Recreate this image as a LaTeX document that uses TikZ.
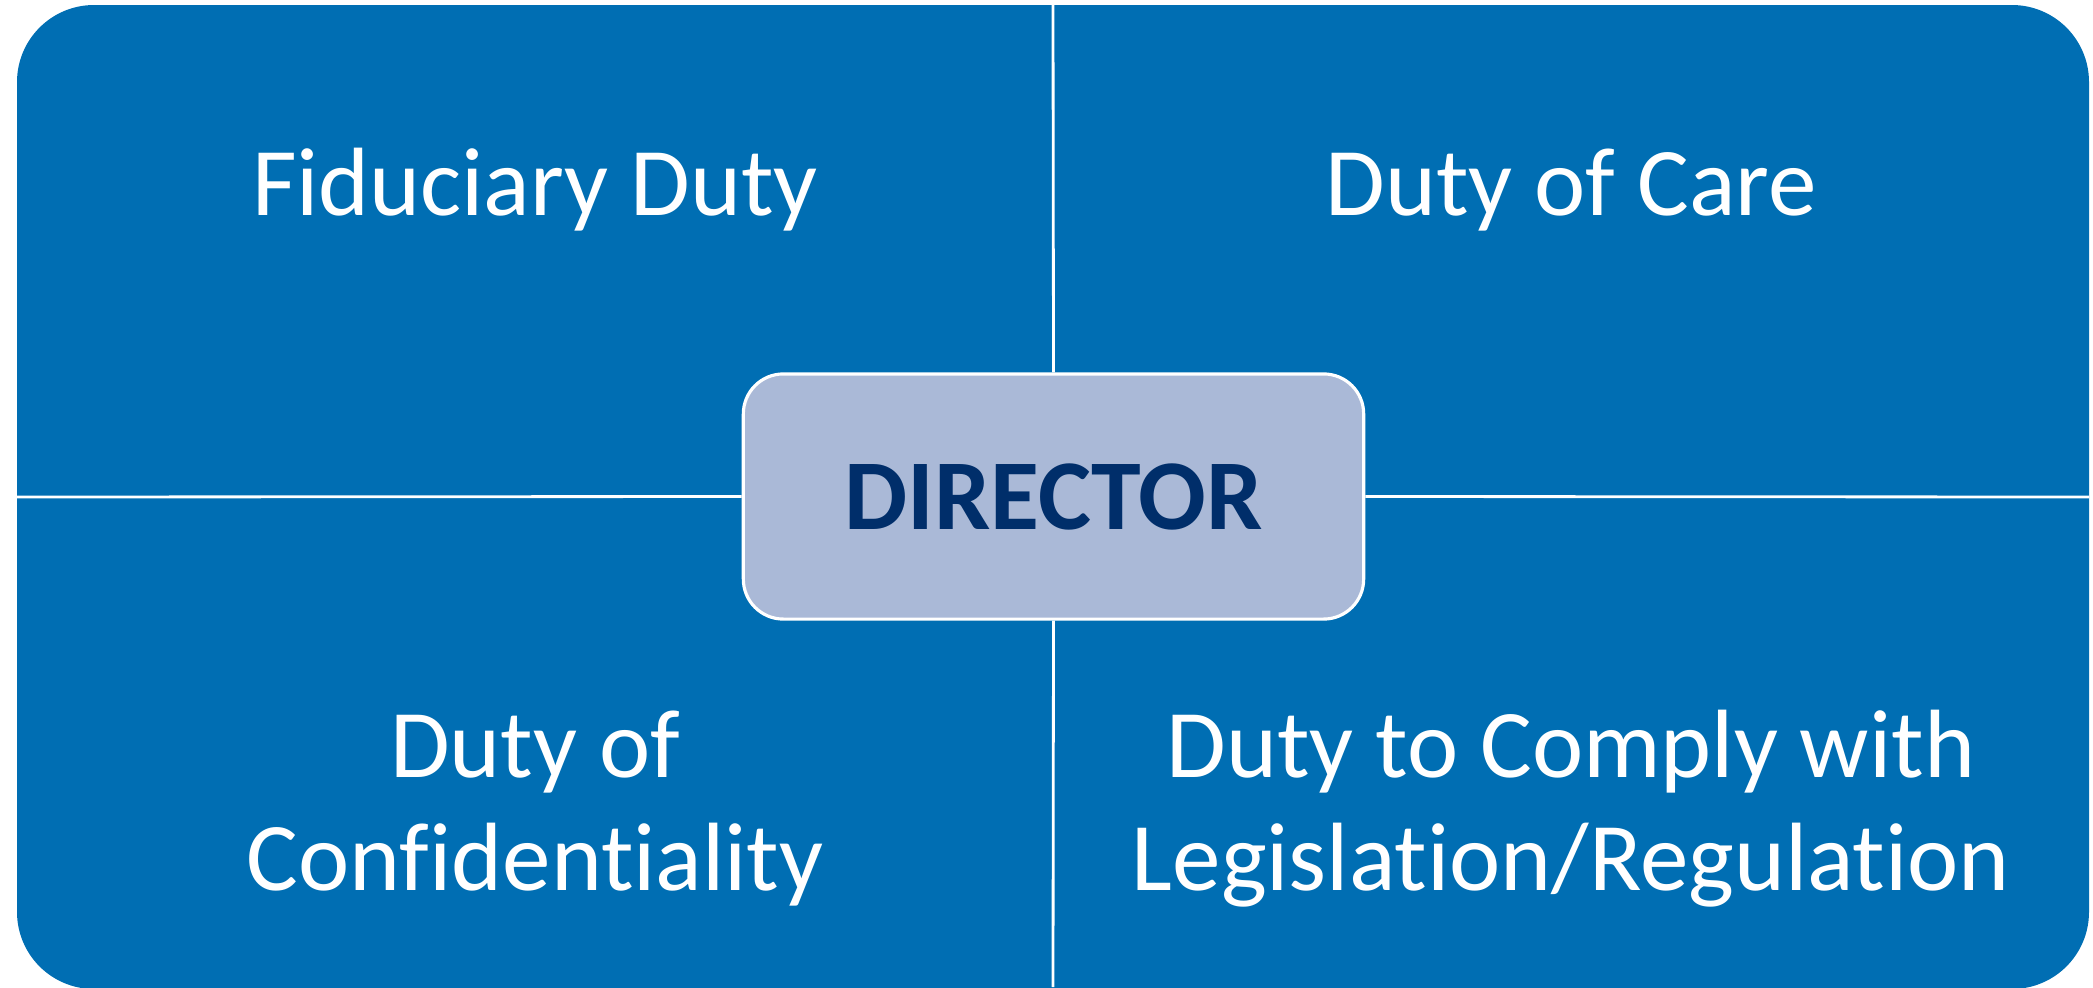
\documentclass[tikz,border=0pt]{standalone}
\usepackage{fontspec}
\setmainfont[Ligatures={NoCommon,NoRare,NoContextual}]{Carlito}
\definecolor{bleu}{RGB}{0,110,179}
\definecolor{bleuclair}{RGB}{170,185,215}
\definecolor{marine}{RGB}{0,46,106}
\begin{document}
\begin{tikzpicture}[x=0.01cm, y=-0.01cm]
			\useasboundingbox (0,0) rectangle (2093,987);
			%Fond des quatre devoirs
			\begin{scope}
				\clip (0,0) rectangle (2093,987);
				\fill[bleu, rounded corners=0.77cm] (17,5) rectangle (2089,989);
			\end{scope}
			%Points d'attache des traits de séparation
			\coordinate (H) at (1053,0);
			\coordinate (B) at (1053,987);
			\coordinate (G) at (17,497);
			\coordinate (D) at (2089,497);
			%Le directeur au centre
			\node[draw=white, line width=0.9pt, fill=bleuclair, rounded corners=0.4cm,
				minimum width=6.2cm, minimum height=2.45cm, text=marine,
				font=\fontsize{28.5}{34}\selectfont\bfseries] (Dir) at (1053.5,496.5) {DIRECTOR};
			%Traits de séparation
			\draw[white, line width=0.8pt] (H) -- (Dir.north);
			\draw[white, line width=0.8pt] (Dir.south) -- (B);
			\draw[white, line width=0.8pt] (G) -- (Dir.west);
			\draw[white, line width=0.8pt] (Dir.east) -- (D);
			%Les devoirs (ancre base = ligne de base de la derniere ligne)
			\node[white, anchor=base, font=\fontsize{27.6}{31.9}\selectfont] (Fid) at (535,215) {Fiduciary Duty};
			\node[white, anchor=base, font=\fontsize{27.6}{31.9}\selectfont] (Care) at (1571,215) {Duty of Care};
			\node[white, anchor=base, align=center, font=\fontsize{27.6}{31.9}\selectfont] (Conf) at (535,890) {Duty of\\Confidentiality};
			\node[white, anchor=base, align=center, font=\fontsize{27.6}{31.9}\selectfont] (Comp) at (1571,890) {Duty to Comply with\\Legislation/Regulation};
		\end{tikzpicture}
\end{document}
